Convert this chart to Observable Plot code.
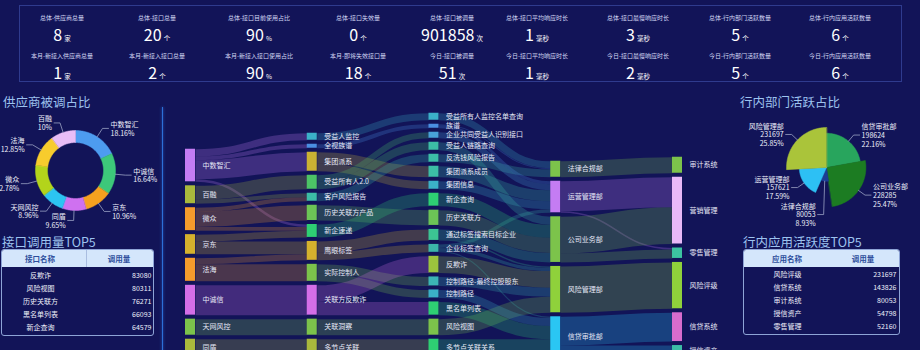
<!DOCTYPE html>
<html><head><meta charset="utf-8">
<script src="https://cdn.jsdelivr.net/npm/d3@7"></script>
<script src="https://cdn.jsdelivr.net/npm/@observablehq/plot@0.6"></script>
<style>
html,body{margin:0;padding:0;width:920px;height:350px;overflow:hidden;background:#121458;font-family:"Noto Sans CJK SC","Noto Sans",sans-serif;color:#fff;}
#root{position:relative;width:920px;height:350px;overflow:hidden;}
.abs{position:absolute;}
.kbox{left:19px;top:5px;width:883px;height:77px;border:1px solid #2f3b8e;box-sizing:border-box;}
.kl{position:absolute;transform:translateX(-50%);white-space:nowrap;font-size:6px;line-height:6px;color:#d3d8f4;}
.kv{position:absolute;transform:translateX(-50%);white-space:nowrap;font-size:16px;line-height:16px;color:#fff;}
.ku{font-size:6.5px;margin-left:2px;}
.title{position:absolute;white-space:nowrap;font-size:12.5px;line-height:13px;color:#9dc3ef;}
.tbl{position:absolute;border:1px solid #8ea4d6;border-radius:3px;overflow:hidden;box-sizing:border-box;}
.thead{position:relative;height:17px;background:#d4e6fb;}
.th{position:absolute;top:0;transform:translateX(-50%);font-size:7.5px;line-height:17px;font-weight:bold;color:#2d4e9c;white-space:nowrap;}
.vline{position:absolute;width:1px;background:#2d6fd8;box-shadow:0 0 3px #2d6fd8;}
</style></head><body><div id="root"></div>
<script>
// ---------------- data ----------------
const kpiTopLabels = ["总体-供应商总量","总体-接口总量","总体-接口目前使用占比","总体-接口失效量","总体-接口被调量","总体-接口平均响应时长","总体-接口最慢响应时长","总体-行内部门活跃数量","总体-行内应用活跃数量"];
const kpiTopValues = [8,20,90,0,901858,1,3,5,6];
const kpiTopUnits = ["家","个","%","个","次","毫秒","毫秒","个","个"];
const kpiBottomLabels = ["本月-新接入供应商总量","本月-新接入接口总量","本月-新接入接口使用占比","本月-即将失效接口量","今日-接口被调量","今日-接口平均响应时长","今日-接口最慢响应时长","今日-行内部门活跃数量","今日-行内应用活跃数量"];
const kpiBottomValues = [1,2,90,18,51,1,2,5,6];
const kpiBottomUnits = ["家","个","%","个","次","毫秒","毫秒","个","个"];

const supplierNames = ["中数智汇","中诚信","京东","同盾","天网风控","微众","法海","百融"];
const supplierShares = [18.16,16.64,10.96,9.65,8.96,12.78,12.85,10];
const supplierColors = ["#4d9cf0","#3dc87a","#f6a11f","#cf71f0","#2cc4f2","#b3d41b","#f7cc2d","#e8bdf7"];

const deptNames = ["信贷审批部","公司业务部","法律合规部","运营管理部","风险管理部"];
const deptCalls = [198624,228285,80053,157621,231697];
const deptShares = ["22.16%","25.47%","8.93%","17.59%","25.85%"];
const deptColors = ["#28a55d","#1c7c22","#1c3d93","#2dc0f4","#aac43a"];

const apiNames = ["反欺诈","风险视图","历史关联方","黑名单列表","新企查询"];
const apiCalls = [83080,80311,76271,66093,64579];
const appNames = ["风险评级","信贷系统","审计系统","授信资产","零售管理"];
const appCalls = [231697,143826,80053,54798,52160];

const sankeySuppliers = ["中数智汇","百融","微众","京东","法海","中诚信","天网风控","同盾"];
const sankeySupplierColors = ["#c47cf3","#a9b93c","#f59b2c","#d5b12d","#f59b2c","#d46ee8","#7cc34b","#a9b93c"];
const sankeyProducts = ["受益人监控","全视族谱","集团派系","受益所有人2.0","客户风险报告","历史关联方产品","新企速递","鹰眼标签","实际控制人","关联方反欺诈","关联洞察","多节点关联"];
const sankeyProductColors = ["#3bb1c8","#4a8fe2","#cab233","#4cc466","#3cbda6","#6cc456","#2ecf73","#d5b12d","#7cc34b","#d46ee8","#7cc34b","#a9b93c"];
const sankeyInterfaces = ["受益所有人监控名单查询","族谱","企业共同受益人识别接口","受益人链路查询","反洗钱风险报告","集团派系成员","集团信息","新企查询","历史关联方","通过标签搜索目标企业","企业标签查询","反欺诈","控制路径-最终控股股东","控制路径","黑名单列表","风险视图","多节点关联关系"];
const sankeyInterfaceColors = ["#3bb1c8","#4a8fe2","#48a1d9","#3cbda6","#3cbda6","#3cbda6","#3bb1c8","#2ecf73","#6cc456","#3cc493","#3cb5a9","#9cc43d","#3cb5b5","#3bb1c8","#2ecf73","#7cc34b","#2ecf73"];
const sankeyDepartments = ["法律合规部","运营管理部","公司业务部","风险管理部","信贷审批部"];
const sankeyDepartmentColors = ["#7cc34b","#c47cf3","#7cc34b","#8fd13b","#2ac6f3"];
const sankeyApplications = ["审计系统","营销管理","零售管理","风险评级","信贷系统","授信资产"];
const sankeyApplicationColors = ["#7cc34b","#e8b9f8","#3cc4a1","#8fd13b","#d76ccd","#3cbda6"];
const sankeyFlows = [
 ["中数智汇","受益人监控",35000],["中数智汇","全视族谱",20000],["中数智汇","集团派系",95000],["中数智汇","新企速递",12764],
 ["百融","受益所有人2.0",70000],["百融","客户风险报告",19628],
 ["微众","客户风险报告",20372],["微众","历史关联方产品",76271],["微众","新企速递",17902],
 ["京东","新企速递",33913],["京东","鹰眼标签",64319],
 ["法海","鹰眼标签",30172],["法海","实际控制人",85000],
 ["中诚信","关联方反欺诈",149141],
 ["天网风控","关联洞察",80307],
 ["同盾","多节点关联",86491],
 ["受益人监控","受益所有人监控名单查询",35000],
 ["全视族谱","族谱",20000],
 ["集团派系","集团派系成员",55000],["集团派系","集团信息",40000],
 ["受益所有人2.0","企业共同受益人识别接口",30000],["受益所有人2.0","受益人链路查询",40000],
 ["客户风险报告","反洗钱风险报告",40000],
 ["历史关联方产品","历史关联方",76271],
 ["新企速递","新企查询",64579],
 ["鹰眼标签","通过标签搜索目标企业",55000],["鹰眼标签","企业标签查询",39491],
 ["实际控制人","控制路径-最终控股股东",45000],["实际控制人","控制路径",40000],
 ["关联方反欺诈","反欺诈",83080],["关联方反欺诈","黑名单列表",66061],
 ["关联洞察","风险视图",80307],
 ["多节点关联","多节点关联关系",86491],
 ["受益所有人监控名单查询","法律合规部",35000],["反洗钱风险报告","法律合规部",40000],["族谱","法律合规部",5053],
 ["族谱","运营管理部",14947],["企业共同受益人识别接口","运营管理部",30000],["集团派系成员","运营管理部",55000],["集团信息","运营管理部",40000],["企业标签查询","运营管理部",17674],
 ["受益人链路查询","公司业务部",40000],["新企查询","公司业务部",64579],["历史关联方","公司业务部",76271],["通过标签搜索目标企业","公司业务部",47435],
 ["通过标签搜索目标企业","风险管理部",7565],["企业标签查询","风险管理部",15745],["反欺诈","风险管理部",83080],["控制路径-最终控股股东","风险管理部",45000],["风险视图","风险管理部",80307],
 ["控制路径","信贷审批部",40000],["黑名单列表","信贷审批部",66061],["多节点关联关系","信贷审批部",86491],["企业标签查询","信贷审批部",6072],
 ["法律合规部","审计系统",80053],
 ["运营管理部","营销管理",150000],["运营管理部","零售管理",7621],
 ["公司业务部","营销管理",183746],["公司业务部","零售管理",44539],
 ["风险管理部","风险评级",231697],
 ["信贷审批部","信贷系统",143826],["信贷审批部","授信资产",54798]
];

// ---------------- layout helpers ----------------
const FONT = '"Noto Sans CJK SC","Noto Sans",sans-serif';
const root = document.getElementById("root");
function el(cls, style, html) {
  const d = document.createElement("div");
  if (cls) d.className = cls;
  Object.assign(d.style, style || {});
  if (html != null) d.innerHTML = html;
  root.appendChild(d);
  return d;
}
function place(node, left, top) {
  const d = document.createElement("div");
  d.style.position = "absolute"; d.style.left = left + "px"; d.style.top = top + "px";
  d.appendChild(node); root.appendChild(d); return d;
}
const baseStyle = {background: "transparent", fontFamily: FONT, overflow: "visible"};

// ---------------- KPI header ----------------
el("abs kbox");
const kpiCenters = [62,157,259,358,452,537,638,740,840];
kpiTopLabels.forEach((l, i) => {
  el("kl", {left: kpiCenters[i] + "px", top: "15px"}, l);
  el("kv", {left: kpiCenters[i] + "px", top: "26px"}, kpiTopValues[i] + '<span class="ku">' + kpiTopUnits[i] + '</span>');
});
kpiBottomLabels.forEach((l, i) => {
  el("kl", {left: kpiCenters[i] + "px", top: "53px"}, l);
  el("kv", {left: kpiCenters[i] + "px", top: "64px"}, kpiBottomValues[i] + '<span class="ku">' + kpiBottomUnits[i] + '</span>');
});

// titles & separators
el("title", {left: "3px", top: "95px"}, "供应商被调占比");
el("title", {left: "2px", top: "235px"}, "接口调用量TOP5");
el("title", {left: "740px", top: "95px"}, "行内部门活跃占比");
el("title", {left: "743px", top: "235px"}, "行内应用活跃度TOP5");
el("vline", {left: "162px", top: "107px", height: "250px"});

// ---------------- donut (suppliers) ----------------
(function () {
  const W = 160, H = 132, cx = 75, cy = 70, R = 40, r0 = 28;
  const arcs = d3.pie().sort(null).value(d => d)(supplierShares);
  const pts = [], lines = [], labels = [];
  arcs.forEach((p, i) => {
    const n = Math.max(6, Math.ceil((p.endAngle - p.startAngle) * 40));
    for (let j = 0; j <= n; j++) { const a = p.startAngle + (p.endAngle - p.startAngle) * j / n; pts.push({k: i, x: cx + R * Math.sin(a), y: cy - R * Math.cos(a), c: supplierColors[i]}); }
    for (let j = n; j >= 0; j--) { const a = p.startAngle + (p.endAngle - p.startAngle) * j / n; pts.push({k: i, x: cx + r0 * Math.sin(a), y: cy - r0 * Math.cos(a), c: supplierColors[i]}); }
    const m = (p.startAngle + p.endAngle) / 2, s = Math.sin(m) >= 0 ? 1 : -1;
    const e = [cx + R * Math.sin(m), cy - R * Math.cos(m)];
    const p1 = [cx + (R + 10) * Math.sin(m), cy - (R + 10) * Math.cos(m)];
    const p2 = [p1[0] + s * 6, p1[1]];
    [e, p1, p2].forEach(q => lines.push({k: i, x: q[0], y: q[1]}));
    labels.push({x: p2[0] + s * 2, y: p2[1], anchor: s > 0 ? "start" : "end", text: supplierNames[i] + "\n" + supplierShares[i] + "%"});
  });
  const chart = Plot.plot({
    width: W, height: H, margin: 0, style: baseStyle,
    x: {domain: [0, W], range: [0, W], axis: null}, y: {domain: [0, H], range: [0, H], axis: null},
    color: {type: "identity"},
    marks: [
      Plot.line(pts, {x: "x", y: "y", z: "k", fill: "c", stroke: "c", strokeWidth: 0.5, curve: "linear-closed"}),
      Plot.line(lines, {x: "x", y: "y", z: "k", stroke: "#9aa2c4", strokeWidth: 0.8}),
      Plot.text(labels.filter(d => d.anchor === "start"), {x: "x", y: "y", text: "text", textAnchor: "start", fill: "#eef0fa", fontSize: 7, lineHeight: 1.25}),
      Plot.text(labels.filter(d => d.anchor === "end"), {x: "x", y: "y", text: "text", textAnchor: "end", fill: "#eef0fa", fontSize: 7, lineHeight: 1.25})
    ]
  });
  place(chart, 0, 100);
})();

// ---------------- rose (departments) ----------------
(function () {
  const W = 185, H = 140, cx = 91, cy = 67, R = 40;
  const maxV = d3.max(deptCalls);
  const arcs = d3.pie().sort(null).value(d => d)(deptCalls);
  const pts = [], lines = [], labels = [];
  arcs.forEach((p, i) => {
    const r = R * deptCalls[i] / maxV;
    const n = Math.max(6, Math.ceil((p.endAngle - p.startAngle) * 40));
    pts.push({k: i, x: cx, y: cy, c: deptColors[i]});
    for (let j = 0; j <= n; j++) { const a = p.startAngle + (p.endAngle - p.startAngle) * j / n; pts.push({k: i, x: cx + r * Math.sin(a), y: cy - r * Math.cos(a), c: deptColors[i]}); }
    const m = (p.startAngle + p.endAngle) / 2, s = Math.sin(m) >= 0 ? 1 : -1;
    labels.push({i, m, s, r, e: [cx + r * Math.sin(m), cy - r * Math.cos(m)], p1: [cx + (r + 8) * Math.sin(m), cy - (r + 8) * Math.cos(m)]});
  });
  // simple overlap avoidance per side
  [1, -1].forEach(side => {
    const ls = labels.filter(d => d.s === side).sort((a, b) => a.p1[1] - b.p1[1]);
    let prev = -Infinity;
    ls.forEach(d => { d.ly = Math.max(d.p1[1], prev + 27); prev = d.ly; });
  });
  const texts = labels.map(d => {
    const p1 = [d.p1[0], d.ly], p2 = [p1[0] + d.s * 6, d.ly];
    [d.e, p1, p2].forEach(q => lines.push({k: d.i, x: q[0], y: q[1]}));
    return {x: p2[0] + d.s * 2, y: d.ly, anchor: d.s > 0 ? "start" : "end", text: deptNames[d.i] + "\n" + deptCalls[d.i] + "\n" + deptShares[d.i]};
  });
  const chart = Plot.plot({
    width: W, height: H, margin: 0, style: baseStyle,
    x: {domain: [0, W], range: [0, W], axis: null}, y: {domain: [0, H], range: [0, H], axis: null},
    color: {type: "identity"},
    marks: [
      Plot.line(pts, {x: "x", y: "y", z: "k", fill: "c", stroke: "c", strokeWidth: 0.5, curve: "linear-closed"}),
      Plot.line(lines, {x: "x", y: "y", z: "k", stroke: "#9aa2c4", strokeWidth: 0.8}),
      Plot.text(texts.filter(d => d.anchor === "start"), {x: "x", y: "y", text: "text", textAnchor: "start", fill: "#eef0fa", fontSize: 7, lineHeight: 1.25}),
      Plot.text(texts.filter(d => d.anchor === "end"), {x: "x", y: "y", text: "text", textAnchor: "end", fill: "#eef0fa", fontSize: 7, lineHeight: 1.25})
    ]
  });
  place(chart, 735, 100);
})();

// ---------------- tables ----------------
function makeTable(left, top, w, h, headers, headerX, names, values, nameX, valueX, divider) {
  const box = el("tbl", {left: left + "px", top: top + "px", width: w + "px", height: h + "px"});
  const head = document.createElement("div"); head.className = "thead"; box.appendChild(head);
  headers.forEach((t, i) => {
    const d = document.createElement("div"); d.className = "th"; d.style.left = headerX[i] + "px"; d.textContent = t; head.appendChild(d);
  });
  if (divider != null) {
    const dv = document.createElement("div");
    Object.assign(dv.style, {position: "absolute", left: divider + "px", top: "0", width: "1px", height: "17px", background: "#a9bde0"});
    head.appendChild(dv);
  }
  const rows = names.map((n, i) => ({n, v: values[i]}));
  const iw = w - 2, ih = h - 2 - 17;
  const chart = Plot.plot({
    width: iw, height: ih, margin: 0, style: baseStyle,
    x: {domain: [0, iw], range: [0, iw], axis: null},
    y: {type: "band", domain: names, range: [0, ih], padding: 0, axis: null},
    marks: [
      Plot.text(rows, {x: () => nameX, y: "n", text: "n", fill: "#eef0fa", fontSize: 7, textAnchor: "middle"}),
      Plot.text(rows, {x: () => valueX, y: "n", text: d => String(d.v), fill: "#eef0fa", fontSize: 7, textAnchor: "end"})
    ]
  });
  box.appendChild(chart);
}
makeTable(1, 249, 153, 87, ["接口名称", "调用量"], [38, 117], apiNames, apiCalls, 38, 149, 84);
makeTable(743, 249, 157, 86, ["应用名称", "调用量"], [43, 119], appNames, appCalls, 43, 152, null);

// ---------------- sankey ----------------
(function () {
  const W = 570, H = 256;
  const columns = [sankeySuppliers, sankeyProducts, sankeyInterfaces, sankeyDepartments, sankeyApplications];
  const colColors = [sankeySupplierColors, sankeyProductColors, sankeyInterfaceColors, sankeyDepartmentColors, sankeyApplicationColors];
  const yMax = 1280000, gap = 20000;
  const ys = Plot.scale({y: {domain: [0, yMax], range: [0, H]}});
  const xRange = [15, 502];
  const nodeW = 10 / ((xRange[1] - xRange[0]) / 4);
  const nodes = new Map();
  columns.forEach((names, c) => names.forEach((name, i) => nodes.set(name, {name, col: c, color: colColors[c][i], inV: 0, outV: 0, ins: [], outs: []})));
  const links = sankeyFlows.map(([s, t, v]) => ({source: nodes.get(s), target: nodes.get(t), value: v}));
  links.forEach(l => { l.source.outV += l.value; l.source.outs.push(l); l.target.inV += l.value; l.target.ins.push(l); });
  nodes.forEach(n => n.value = Math.max(n.inV, n.outV));
  columns.forEach(names => {
    const ns = names.map(n => nodes.get(n));
    const total = d3.sum(ns, n => n.value) + gap * (ns.length - 1);
    let y = yMax - total;
    ns.forEach(n => { n.y0 = y; n.y1 = y + n.value; y = n.y1 + gap; });
  });
  nodes.forEach(n => {
    n.outs.sort((a, b) => a.target.y0 - b.target.y0);
    n.ins.sort((a, b) => a.source.y0 - b.source.y0);
    let y = n.y0; n.outs.forEach(l => { l.sy = y + l.value / 2; y += l.value; });
    y = n.y0; n.ins.forEach(l => { l.ty = y + l.value / 2; y += l.value; });
  });
  const nodeArr = Array.from(nodes.values());
  const chart = Plot.plot({
    width: W, height: H, margin: 0, style: baseStyle,
    x: {domain: [0, 4], range: xRange, axis: null},
    y: {domain: [0, yMax], range: [0, H], axis: null},
    color: {type: "identity"},
    marks: [
      Plot.link(links, {x1: l => l.source.col + nodeW, y1: "sy", x2: l => l.target.col, y2: "ty", curve: "bump-x",
        stroke: l => l.source.color, strokeOpacity: 0.25, strokeWidth: l => ys.apply(l.value) - ys.apply(0)}),
      Plot.rect(nodeArr, {x1: "col", x2: d => d.col + nodeW, y1: "y0", y2: "y1", fill: "color"}),
      Plot.text(nodeArr, {x: d => d.col + nodeW, y: d => (d.y0 + d.y1) / 2, text: "name", textAnchor: "start", dx: 7, fill: "#e6e8f6", fontSize: 7})
    ]
  });
  place(chart, 170, 100);
})();
</script></body></html>
